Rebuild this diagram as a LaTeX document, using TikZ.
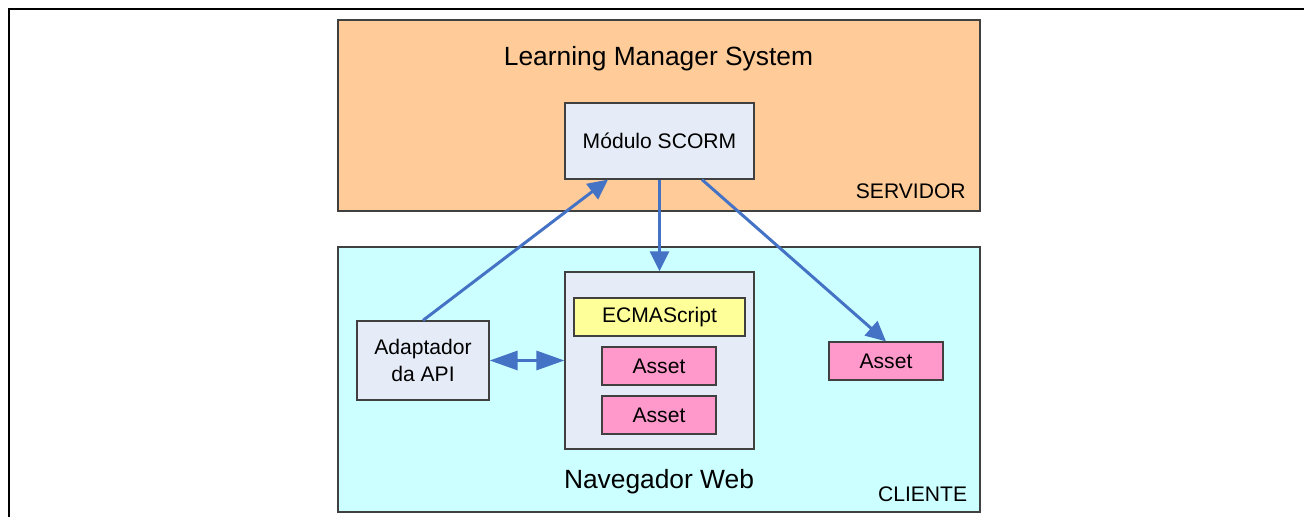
\documentclass[tikz,border=0pt]{standalone}
\usepackage{fontspec}
\setmainfont{Liberation Sans}
\usetikzlibrary{arrows.meta}
\definecolor{peach}{RGB}{255,204,153}
\definecolor{lightcyan}{RGB}{204,255,255}
\definecolor{lavender}{RGB}{230,236,247}
\definecolor{paleyellow}{RGB}{255,255,153}
\definecolor{pink}{RGB}{255,153,204}
\definecolor{arrowblue}{RGB}{68,114,196}

\begin{document}
\begin{tikzpicture}[
        box/.style={draw=black!75, line width=0.7pt, inner sep=0pt, align=center, font=\fontsize{12}{15}\selectfont},
        zone/.style={box, line width=1pt},
        asset/.style={box, fill=pink, minimum width=2.28cm, minimum height=0.76cm},
        label/.style={inner sep=0pt, font=\fontsize{12}{15}\selectfont},
        title/.style={inner sep=0pt, font=\fontsize{15}{18}\selectfont},
        flow/.style={draw=arrowblue, line width=1.7pt, -{Triangle[length=0.4cm,width=0.38cm]}},
        dflow/.style={draw=arrowblue, line width=1.7pt, {Triangle[length=0.56cm,width=0.38cm]}-{Triangle[length=0.56cm,width=0.38cm]}}
    ]
        \useasboundingbox (0,0) rectangle (26.08,10.34);
        \draw[line width=1.2pt] (0.18,0) -- (0.18,10.16) -- (26.08,10.16);

        \node[zone, fill=peach, minimum width=12.84cm, minimum height=3.82cm] (servidor) at (13.18,8.03) {};
        \node[zone, fill=lightcyan, minimum width=12.84cm, minimum height=5.30cm] (cliente) at (13.18,2.75) {};

        \node[title, anchor=base] (lms) at (13.17,9.02) {Learning Manager System};
        \node[label, anchor=east] (servlbl) at (19.32,6.51) {SERVIDOR};
        \node[label, anchor=east] (clilbl) at (19.35,0.46) {CLIENTE};
        \node[title, anchor=base] (navlbl) at (13.18,0.56) {Navegador Web};

        \node[box, fill=lavender, minimum width=3.78cm, minimum height=1.52cm] (modulo) at (13.19,7.52) {Módulo SCORM};
        \node[box, fill=lavender, minimum width=3.78cm, minimum height=3.54cm] (nav) at (13.19,3.13) {};
        \node[box, fill=paleyellow, minimum width=3.42cm, minimum height=0.76cm] (ecma) at (13.19,4.00) {ECMAScript};
        \node[asset] (asset1) at (13.18,3.02) {Asset};
        \node[asset] (asset2) at (13.18,2.04) {Asset};
        \node[box, fill=lavender, minimum width=2.64cm, minimum height=1.58cm] (adapt) at (8.46,3.13) {Adaptador\\da API};
        \node[asset] (asset3) at (17.72,3.12) {Asset};

        \draw[flow] (adapt.north) -- ([xshift=-1.03cm]modulo.south);
        \draw[flow] (modulo.south) -- (nav.north);
        \draw[flow] ([xshift=0.85cm]modulo.south) -- (asset3.north);
        \draw[dflow] (adapt.east) -- (nav.west);
    \end{tikzpicture}
\end{document}
